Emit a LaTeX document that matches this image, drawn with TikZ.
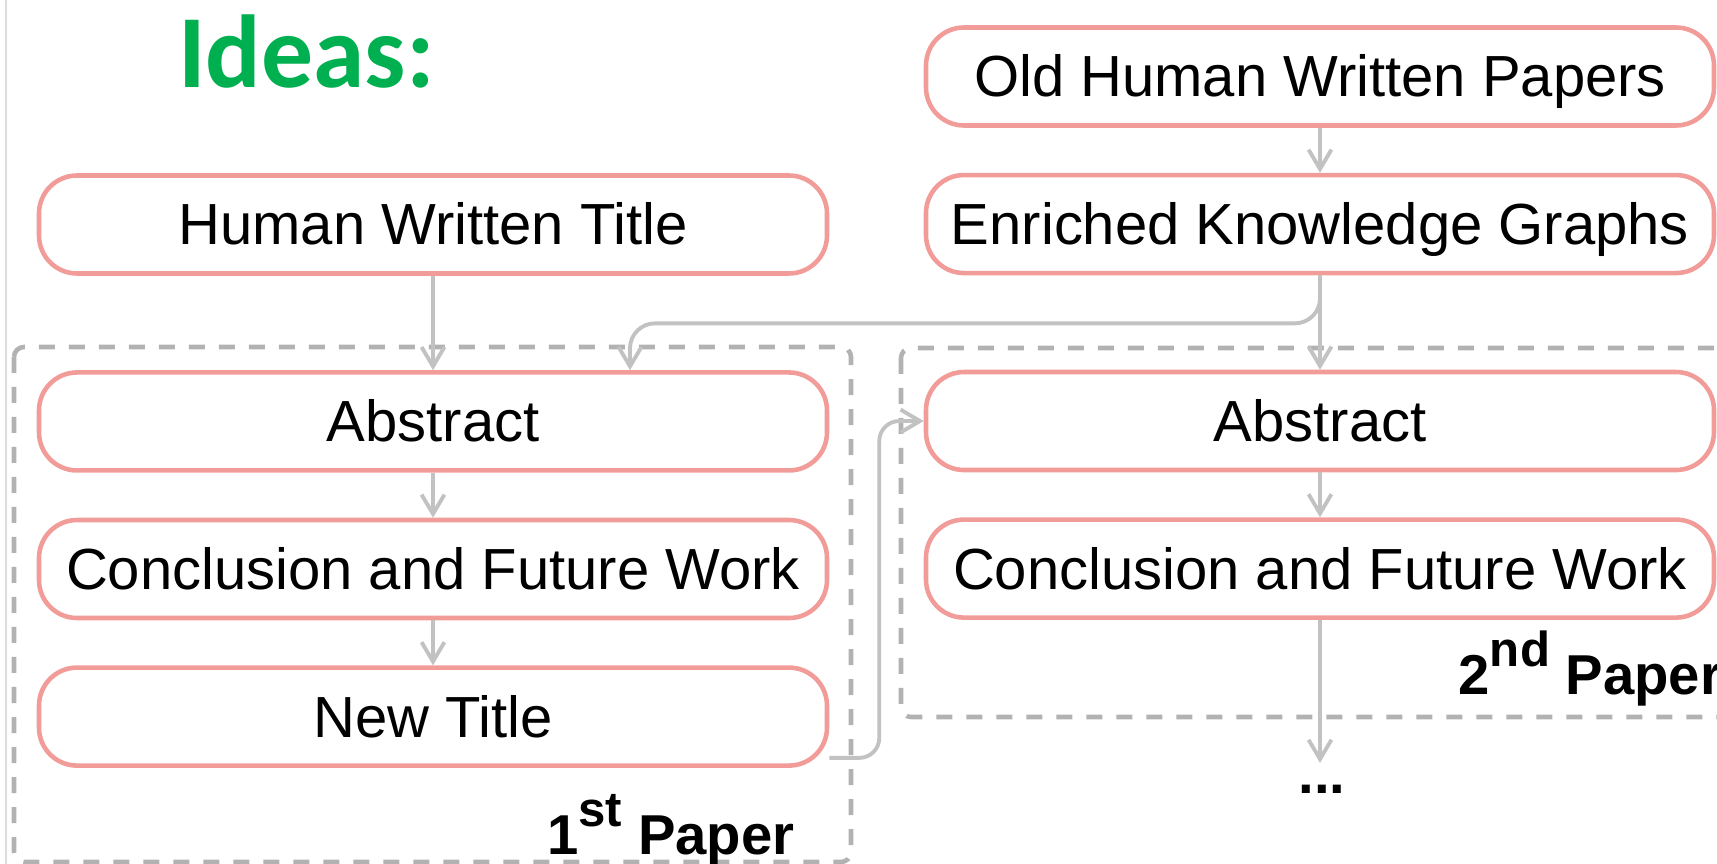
\documentclass[tikz,border=0pt]{standalone}
\usepackage{fontspec}
\setmainfont{Liberation Sans}
\newfontfamily\headfont{Carlito}
\usetikzlibrary{arrows.meta,positioning,backgrounds}
\definecolor{IdeaGreen}{HTML}{00B050}
\definecolor{BoxRed}{HTML}{F29C99}
\definecolor{LinkGray}{HTML}{C2C2C2}
\definecolor{FrameGray}{HTML}{B2B2B2}
\definecolor{EdgeGray}{HTML}{DCDCDC}
\newcommand{\ordsup}[1]{\raisebox{0.28cm}{\fontsize{14}{14}\selectfont #1}}

\begin{document}
\begin{tikzpicture}[
    node distance=0.45cm,
    box/.style={rounded corners=0.38cm,draw=BoxRed,fill=white,line width=1.3pt,
                minimum width=7.88cm,minimum height=0.98cm,inner sep=0pt,
                text height=0.41cm,text depth=0pt,
                font=\fontsize{16.5}{20}\selectfont},
    arrow/.style={-{Straight Barb[length=5.5pt,width=6.5pt]},LinkGray,line width=1.1pt},
    paperframe/.style={FrameGray,line width=1.3pt,dash pattern=on 0.16cm off 0.14cm,
                       rounded corners=0.1cm},
    paperlabel/.style={font=\fontsize{16}{19}\selectfont\bfseries,inner sep=0pt}]

    \useasboundingbox (0,0) rectangle (17.17,-8.64);

    \node[anchor=base west,text=IdeaGreen,inner sep=0pt,
          font=\headfont\bfseries\fontsize{29.5}{30}\selectfont] (ideas)
      at (1.775,-0.875) {Ideas:};

    % first paper
    \node[box] (hwt) at (4.33,-2.245) {Human Written Title};
    \node[box,below=0.944cm of hwt] (abs1) {Abstract};
    \node[box,below=of abs1] (conc1) {Conclusion and Future Work};
    \node[box,below=of conc1] (newt) {New Title};

    % second paper
    \node[box] (ohwp) at (13.20,-0.765) {Old Human Written Papers};
    \node[box,below=of ohwp] (ekg) {Enriched Knowledge Graphs};
    \node[box,below=0.944cm of ekg] (abs2) {Abstract};
    \node[box,below=of abs2] (conc2) {Conclusion and Future Work};

    \node[paperlabel,anchor=base east] (lab1) at (7.95,-8.55)
      {1\ordsup{st} Paper};
    \node[paperlabel,anchor=base west] (lab2) at (14.58,-6.95)
      {2\ordsup{nd} Paper};
    \node[paperlabel,inner sep=0.22cm,anchor=base] (more) at (13.22,-7.94) {...};

    \draw[arrow] (hwt) -- (abs1);
    \draw[arrow] (abs1) -- (conc1);
    \draw[arrow] (conc1) -- (newt);
    \draw[arrow] (ohwp) -- (ekg);
    \draw[arrow] (ekg) -- (abs2);
    \draw[arrow] (abs2) -- (conc2);
    \draw[arrow] (conc2) -- (conc2 |- more.north);
    \draw[arrow,rounded corners=0.25cm] (ekg.south) -- ++(0,-0.48)
      -| ([xshift=1.97cm]abs1.north);
    \draw[arrow,rounded corners=0.2cm] ([yshift=0.1cm]newt.south east)
      -- ++(0.5,0) |- (abs2.west);

    \begin{scope}[on background layer]
      \draw[EdgeGray,line width=0.6pt] (0.06,0) -- (0.06,-8.64);
      \draw[paperframe] (0.14,-3.47) rectangle (8.51,-8.62);
      \draw[paperframe] (9.01,-3.48) rectangle (17.60,-7.17);
    \end{scope}
  \end{tikzpicture}
\end{document}
